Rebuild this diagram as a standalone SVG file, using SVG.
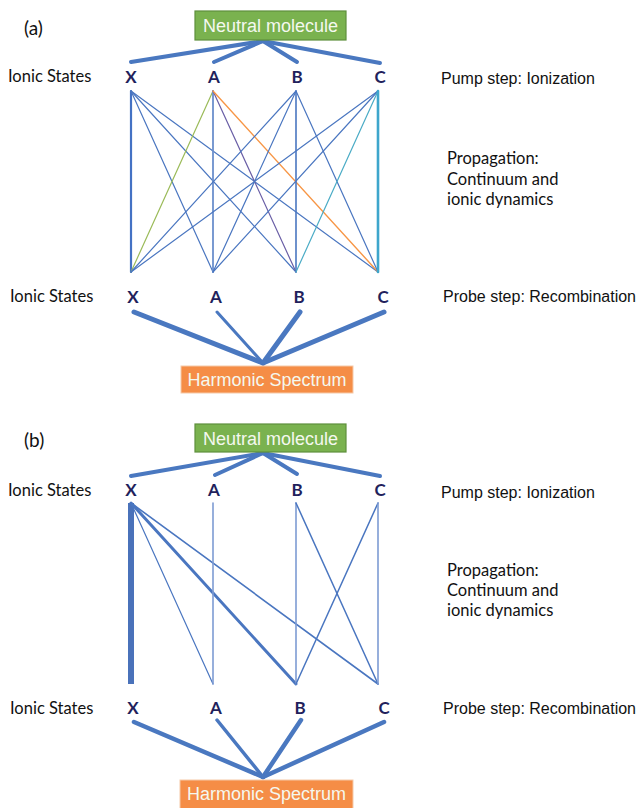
<svg xmlns="http://www.w3.org/2000/svg" width="637" height="808" viewBox="0 0 637 808">
<style>
.bg{fill:#ffffff}
.neutral rect{fill:#7ab24f;stroke:#5e8f3c;stroke-width:1.2}
.harm rect{fill:#f58d46;stroke:#f6c9a8;stroke-width:1}
.boxt{font-family:"Liberation Sans",Arial,sans-serif;font-size:18px;fill:#f4f8ef;text-anchor:middle}
.st{font-family:Lato,"Open Sans",sans-serif;font-weight:bold;font-size:17px;fill:#221f5c;text-anchor:middle}
.cal{font-family:Lato,"Open Sans",sans-serif;font-size:16.5px;fill:#111}
.ari{font-family:"Liberation Sans",Arial,sans-serif;font-size:16px;fill:#111}
.thick{stroke:#4a78c0;stroke-linecap:round;fill:none}
.m{stroke:#4a76c0;stroke-width:1.2;fill:none;stroke-linecap:round}
</style>
<rect class="bg" x="0" y="0" width="637" height="808"/>

<!-- labels -->
<text class="cal" x="24" y="35" style="font-size:19px">(a)</text>
<text class="cal" x="8" y="82">Ionic States</text>
<text class="ari" x="441" y="84">Pump step: Ionization</text>
<text class="cal" x="447" y="164">Propagation:</text>
<text class="cal" x="447" y="185">Continuum and</text>
<text class="cal" x="447" y="205">ionic dynamics</text>
<text class="cal" x="10" y="302">Ionic States</text>
<text class="ari" x="443" y="302">Probe step: Recombination</text>

<text class="cal" x="24" y="447" style="font-size:19px">(b)</text>
<text class="cal" x="8" y="496">Ionic States</text>
<text class="ari" x="441" y="498">Pump step: Ionization</text>
<text class="cal" x="447" y="576">Propagation:</text>
<text class="cal" x="447" y="596">Continuum and</text>
<text class="cal" x="447" y="616">ionic dynamics</text>
<text class="cal" x="10" y="714">Ionic States</text>
<text class="ari" x="443" y="714">Probe step: Recombination</text>

<!-- connectors -->
<g id="connectors">
  <!-- panel a: ionization -->
  <line class="thick" stroke-width="4" x1="263" y1="41" x2="131" y2="62"/>
  <line class="thick" stroke-width="4" x1="263" y1="41" x2="214" y2="62"/>
  <line class="thick" stroke-width="4" x1="263" y1="41" x2="297" y2="62"/>
  <line class="thick" stroke-width="4" x1="263" y1="41" x2="380" y2="63"/>
  <!-- panel a: propagation mesh -->
  <line class="m" x1="131" y1="91" x2="131" y2="272" style="stroke:#4472c4;stroke-width:2.2"/>
  <line class="m" x1="131" y1="91" x2="213" y2="272"/>
  <line class="m" x1="131" y1="91" x2="296" y2="272"/>
  <line class="m" x1="131" y1="91" x2="378" y2="272"/>
  <line class="m" x1="213" y1="91" x2="131" y2="272" style="stroke:#9bbb59"/>
  <line class="m" x1="213" y1="91" x2="213" y2="272" style="stroke:#6b8fcc;stroke-width:1.8"/>
  <line class="m" x1="213" y1="91" x2="296" y2="272" style="stroke:#6a5fa6"/>
  <line class="m" x1="213" y1="91" x2="378" y2="272" style="stroke:#f79646;stroke-width:1.4"/>
  <line class="m" x1="296" y1="91" x2="131" y2="272"/>
  <line class="m" x1="296" y1="91" x2="213" y2="272"/>
  <line class="m" x1="296" y1="91" x2="296" y2="272" style="stroke-width:1.6"/>
  <line class="m" x1="296" y1="91" x2="378" y2="272"/>
  <line class="m" x1="378" y1="91" x2="131" y2="272"/>
  <line class="m" x1="378" y1="91" x2="213" y2="272"/>
  <line class="m" x1="378" y1="91" x2="296" y2="272" style="stroke:#4bacc6"/>
  <line class="m" x1="378" y1="91" x2="378" y2="272" style="stroke:#3ea6cc;stroke-width:2.6"/>
  <!-- panel a: recombination -->
  <line class="thick" stroke-width="5" x1="134" y1="312" x2="263" y2="363"/>
  <line class="thick" stroke-width="3" x1="217" y1="312" x2="263" y2="363"/>
  <line class="thick" stroke-width="5" x1="300" y1="312" x2="263" y2="363"/>
  <line class="thick" stroke-width="5" x1="384" y1="312" x2="263" y2="363"/>

  <!-- panel b: ionization -->
  <line class="thick" stroke-width="4" x1="263" y1="453" x2="131" y2="476"/>
  <line class="thick" stroke-width="4" x1="263" y1="453" x2="215" y2="475"/>
  <line class="thick" stroke-width="4" x1="263" y1="453" x2="297" y2="474"/>
  <line class="thick" stroke-width="4" x1="263" y1="453" x2="380" y2="476"/>
  <!-- panel b: propagation -->
  <line class="m" x1="131" y1="503" x2="131" y2="684" style="stroke:#4a72ba;stroke-width:6;stroke-linecap:butt"/>
  <line class="m" x1="131" y1="503" x2="213" y2="684"/>
  <line class="m" x1="131" y1="503" x2="296" y2="684" style="stroke-width:3"/>
  <line class="m" x1="131" y1="503" x2="378" y2="684" style="stroke-width:1.6"/>
  <line class="m" x1="213" y1="503" x2="213" y2="684" style="stroke:#7d9bd3;stroke-width:1.6"/>
  <line class="m" x1="296" y1="503" x2="296" y2="684" style="stroke:#7d9bd3;stroke-width:1.6"/>
  <line class="m" x1="296" y1="503" x2="378" y2="684" style="stroke-width:1.5"/>
  <line class="m" x1="378" y1="503" x2="296" y2="684" style="stroke-width:1.5"/>
  <line class="m" x1="378" y1="503" x2="378" y2="684" style="stroke:#7d9bd3;stroke-width:1.6"/>
  <!-- panel b: recombination -->
  <line class="thick" stroke-width="4.5" x1="134" y1="722" x2="263" y2="777"/>
  <line class="thick" stroke-width="3.5" x1="217" y1="720" x2="263" y2="777"/>
  <line class="thick" stroke-width="4.5" x1="301" y1="720" x2="263" y2="777"/>
  <line class="thick" stroke-width="4.5" x1="384" y1="722" x2="263" y2="777"/>
</g>

<!-- panel a nodes -->
<g id="neutral-a" class="neutral">
  <rect x="195" y="11" width="151" height="29"/>
  <text class="boxt" x="270.5" y="32">Neutral molecule</text>
</g>
<g id="state-a-top-X"><text class="st" x="131" y="83">X</text></g>
<g id="state-a-top-A"><text class="st" x="214" y="83">A</text></g>
<g id="state-a-top-B"><text class="st" x="297" y="83">B</text></g>
<g id="state-a-top-C"><text class="st" x="380" y="83">C</text></g>
<g id="state-a-bot-X"><text class="st" x="133" y="303">X</text></g>
<g id="state-a-bot-A"><text class="st" x="216" y="303">A</text></g>
<g id="state-a-bot-B"><text class="st" x="299" y="303">B</text></g>
<g id="state-a-bot-C"><text class="st" x="383" y="303">C</text></g>
<g id="harmonic-a" class="harm">
  <rect x="181" y="366" width="172" height="27"/>
  <text class="boxt" x="267" y="386">Harmonic Spectrum</text>
</g>

<!-- panel b nodes -->
<g id="neutral-b" class="neutral">
  <rect x="195" y="424" width="151" height="28"/>
  <text class="boxt" x="270.5" y="444.5">Neutral molecule</text>
</g>
<g id="state-b-top-X"><text class="st" x="131" y="496">X</text></g>
<g id="state-b-top-A"><text class="st" x="214" y="496">A</text></g>
<g id="state-b-top-B"><text class="st" x="297" y="496">B</text></g>
<g id="state-b-top-C"><text class="st" x="380" y="496">C</text></g>
<g id="state-b-bot-X"><text class="st" x="133" y="714">X</text></g>
<g id="state-b-bot-A"><text class="st" x="216" y="714">A</text></g>
<g id="state-b-bot-B"><text class="st" x="300" y="714">B</text></g>
<g id="state-b-bot-C"><text class="st" x="384" y="714">C</text></g>
<g id="harmonic-b" class="harm">
  <rect x="180" y="780" width="173" height="30"/>
  <text class="boxt" x="266.5" y="800">Harmonic Spectrum</text>
</g>
</svg>
